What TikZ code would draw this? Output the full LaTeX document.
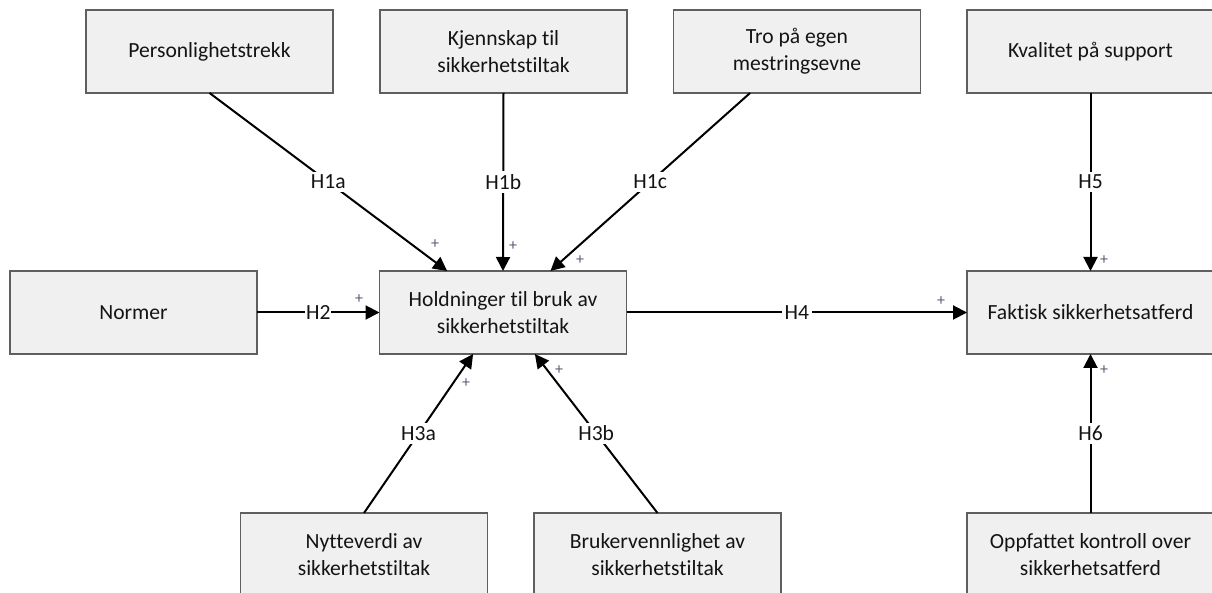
\documentclass[tikz,border=0pt]{standalone}
\usepackage{fontspec}
\setmainfont{Carlito}[Ligatures={NoCommon,NoRare}]
\usetikzlibrary{arrows.meta,calc}
\definecolor{boxfill}{RGB}{240,240,240}
\definecolor{boxline}{RGB}{95,95,95}
\definecolor{plusc}{RGB}{90,90,115}
\definecolor{txt}{RGB}{20,20,20}
\begin{document}
\begin{tikzpicture}[x=0.5pt,y=-0.5pt,
  factor/.style={draw=boxline,fill=boxfill,line width=0.7pt,
    minimum width=123.5pt,minimum height=41.5pt,inner sep=0pt,outer sep=0pt,
    align=center,font=\fontsize{10.8}{13.4}\selectfont,text=txt},
  link/.style={line width=1pt,-{Triangle[length=7pt,width=7pt]}},
  hyp/.style={fill=white,inner sep=1.5pt,font=\fontsize{10.8}{13}\selectfont,text=txt},
  sign/.style={font=\fontsize{8}{9}\selectfont,text=plusc,inner sep=0pt}]
\useasboundingbox (0,0) rectangle (1212,593);

% factors
\node[factor] (pers) at (209.5,51.5) {Personlighetstrekk};
\node[factor] (kjenn) at (503.5,51.5) {Kjennskap til\\sikkerhetstiltak};
\node[factor] (tro) at (797,51.5) {Tro på egen\\mestringsevne};
\node[factor] (kval) at (1090.5,51.5) {Kvalitet på support};
\node[factor] (norm) at (133.5,312.5) {Normer};
\node[factor] (hold) at (503,312.5) {Holdninger til bruk av\\sikkerhetstiltak};
\node[factor] (fakt) at (1090.5,312.5) {Faktisk sikkerhetsatferd};
\node[factor] (nytt) at (364,554.5) {Nytteverdi av\\sikkerhetstiltak};
\node[factor] (bruk) at (657.5,554.5) {Brukervennlighet av\\sikkerhetstiltak};
\node[factor] (oppf) at (1090.5,554.5) {Oppfattet kontroll over\\sikkerhetsatferd};

% hypotheses
\draw[link] (pers.south) -- node[hyp]{H1a} ($(hold.north west)!0.274!(hold.north east)$);
\draw[link] (kjenn.south) -- node[hyp]{H1b} ($(hold.north west)!0.5!(hold.north east)$);
\draw[link] ($(tro.south west)!0.31!(tro.south east)$) -- node[hyp]{H1c} ($(hold.north west)!0.692!(hold.north east)$);
\draw[link] (norm.east) -- node[hyp,inner sep=0.5pt]{H2} (hold.west);
\draw[link] (nytt.north) -- node[hyp]{H3a} ($(hold.south west)!0.379!(hold.south east)$);
\draw[link] (bruk.north) -- node[hyp]{H3b} ($(hold.south west)!0.629!(hold.south east)$);
\draw[link] (hold.east) -- node[hyp]{H4} (fakt.west);
\draw[link] (kval.south) -- node[hyp]{H5} (fakt.north);
\draw[link] (oppf.north) -- node[hyp]{H6} (fakt.south);

% signs
\node[sign] (s1a) at (435,244) {+};
\node[sign] (s1b) at (513,246) {+};
\node[sign] (s1c) at (580,260) {+};
\node[sign] (s2) at (359,299) {+};
\node[sign] (s3a) at (466,383) {+};
\node[sign] (s3b) at (559,370) {+};
\node[sign] (s4) at (941,301) {+};
\node[sign] (s5) at (1104,260) {+};
\node[sign] (s6) at (1104,370) {+};
\end{tikzpicture}
\end{document}
